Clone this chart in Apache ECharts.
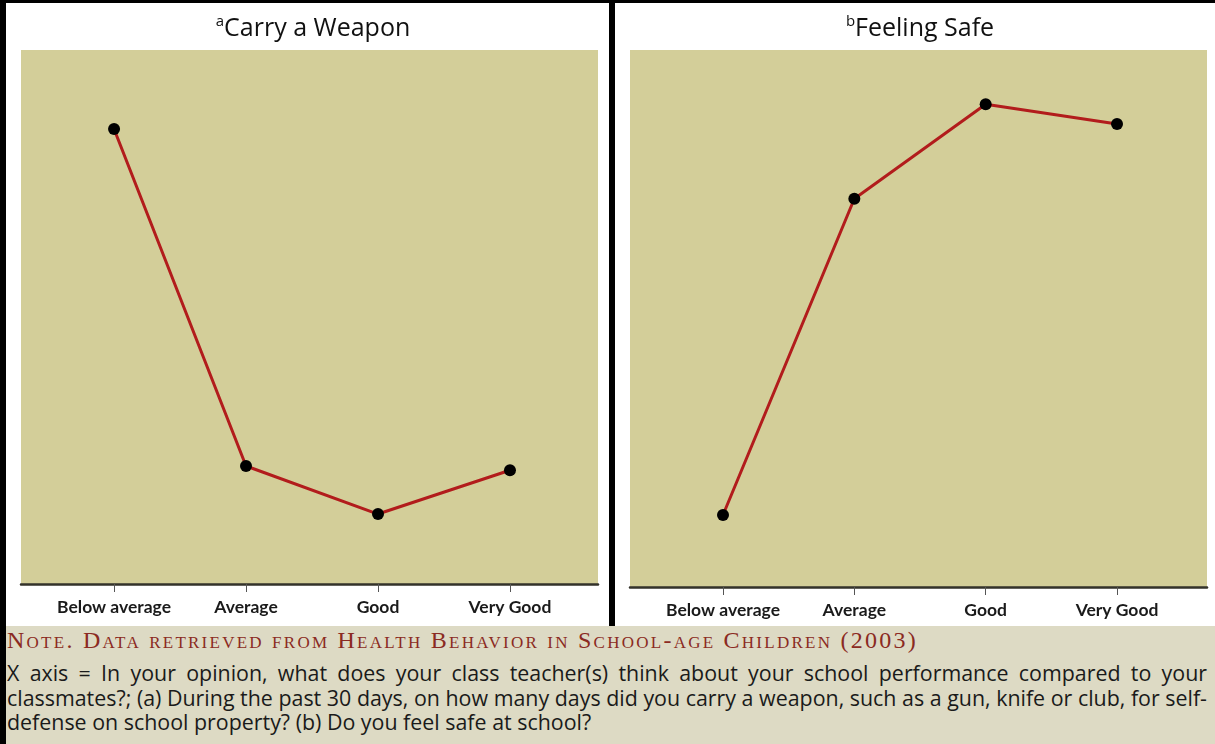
<!DOCTYPE html>
<html>
<head>
<meta charset="utf-8">
<script src="https://cdn.jsdelivr.net/npm/echarts@6/dist/echarts.min.js"></script>
<style>
  html, body { margin: 0; padding: 0; background: #000; }
  #container { position: absolute; left: 0; top: 0; width: 1215px; height: 626px; }
  #note {
    position: absolute; left: 6px; top: 626px; width: 1200px; height: 118px;
    padding: 0 8px 0 1px; background: #dddac4; color: #1a1a1a;
    font-family: 'Open Sans', sans-serif; font-size: 21.4px;
  }
  #note .src {
    font-family: 'Liberation Serif', serif; font-variant: small-caps;
    color: #8b2a22; font-size: 24px; letter-spacing: 2.25px; line-height: 28px; margin-bottom: 7px;
  }
  #note .ln { line-height: 24.5px; text-align: justify; text-align-last: justify; white-space: nowrap; }
  #note .ln.last { text-align-last: left; }
</style>
</head>
<body>
<div id="container"></div>
<div id="note">
  <div class="src">Note. Data retrieved from Health Behavior in School-age Children (2003)</div>
  <div class="ln">X axis = In your opinion, what does your class teacher(s) think about your school performance compared to your</div>
  <div class="ln">classmates?; (a) During the past 30 days, on how many days did you carry a weapon, such as a gun, knife or club, for self-</div>
  <div class="ln last">defense on school property? (b) Do you feel safe at school?</div>
</div>
<script>
// 数据
var categories = ['Below average', 'Average', 'Good', 'Very Good'];
var weaponValues = [85.2, 22.1, 13.1, 21.3];
var safeValues = [13.4, 72.3, 89.9, 86.2];
var tickValues = [0, 1, 2, 3];

var dom = document.getElementById('container');
var myChart = echarts.init(dom, null, { renderer: 'canvas' });

function toPoints(vals) {
  return vals.map(function (v, i) { return [i, v]; });
}

function xAxisOf(idx, min, max) {
  return {
    gridIndex: idx,
    type: 'value',
    min: min,
    max: max,
    splitLine: { show: false },
    axisLine: { show: true, lineStyle: { color: '#33322a', width: 2.5 } },
    axisTick: { show: true, customValues: tickValues, length: 8, lineStyle: { color: '#555', width: 1 } },
    axisLabel: {
      customValues: tickValues,
      margin: 14,
      color: '#1a1a1a',
      fontFamily: 'Lato',
      fontWeight: 'bold',
      fontSize: 17.5,
      formatter: function (v) { return categories[Math.round(v)]; }
    }
  };
}

function yAxisOf(idx) {
  return { gridIndex: idx, type: 'value', min: 0, max: 100, show: false, splitLine: { show: false } };
}

function seriesOf(idx, name, vals) {
  return {
    name: name,
    type: 'line',
    xAxisIndex: idx,
    yAxisIndex: idx,
    data: toPoints(vals),
    symbol: 'circle',
    symbolSize: 12,
    itemStyle: { color: '#000' },
    lineStyle: { color: '#b21c1c', width: 3 },
    animation: false
  };
}

var titleStyle = {
  fontFamily: 'Open Sans',
  fontWeight: 'normal',
  fontSize: 25,
  color: '#111',
  rich: {
    sup: { fontSize: 15, fontFamily: 'Open Sans', fontWeight: 'normal', color: '#111', verticalAlign: 'top', padding: [0, 0, 14, 0] },
    t: { fontSize: 25, fontFamily: 'Open Sans', fontWeight: 'normal', color: '#111' }
  }
};

var option = {
  backgroundColor: 'transparent',
  title: [
    { text: '{sup|a}{t|Carry a Weapon}', left: 308, top: 9, textAlign: 'center', textStyle: titleStyle },
    { text: '{sup|b}{t|Feeling Safe}', left: 915, top: 9, textAlign: 'center', textStyle: titleStyle }
  ],
  graphic: [
    { type: 'rect', z: -10, shape: { x: 6, y: 3, width: 603, height: 623 }, style: { fill: '#fff' } },
    { type: 'rect', z: -10, shape: { x: 615, y: 3, width: 600, height: 623 }, style: { fill: '#fff' } }
  ],
  grid: [
    { left: 21, right: 617, top: 50, bottom: 42, show: true, backgroundColor: '#d3ce99', borderWidth: 0 },
    { left: 630, right: 8, top: 50, bottom: 39, show: true, backgroundColor: '#d3ce99', borderWidth: 0 }
  ],
  xAxis: [xAxisOf(0, -0.705, 3.667), xAxisOf(1, -0.708, 3.685)],
  yAxis: [yAxisOf(0), yAxisOf(1)],
  series: [
    seriesOf(0, 'Carry a Weapon', weaponValues),
    seriesOf(1, 'Feeling Safe', safeValues)
  ]
};

myChart.setOption(option);
window.addEventListener('resize', function () { myChart.resize(); });
</script>
</body>
</html>
